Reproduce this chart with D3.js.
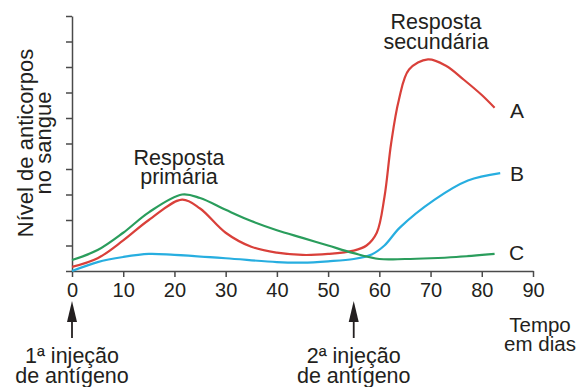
<!DOCTYPE html>
<html>
<head>
  <meta charset="utf-8">
  <title>Resposta imunológica</title>
  <script src="https://d3js.org/d3.v7.min.js"></script>
  <style>
    body, html {
      margin: 0;
      padding: 0;
      background: #fff;
      overflow: hidden;
    }
    text {
      font-family: "Liberation Sans", Arial, sans-serif;
      fill: #231f20;
    }
  </style>
</head>
<body>
  <div id="chart"></div>

  <script>
    // Data: [day, level] pairs (level in 0-10 tick units)
    const seriesA = [[0, 0.16], [5, 0.5], [10, 1.2], [15, 2.0], [21.5, 2.8], [25, 2.45], [30, 1.5], [35, 0.95],
      [40, 0.72], [45, 0.63], [50, 0.67], [55, 0.8], [57.5, 1.0], [59.5, 1.5], [61, 2.9], [62.3, 5.0],
      [63.8, 6.7], [65.8, 7.9], [69.5, 8.3], [73, 8.05], [76.5, 7.5], [80, 6.9], [82.5, 6.4]];
    const seriesB = [[0, 0], [5, 0.35], [10, 0.55], [15, 0.67], [20, 0.63], [30, 0.5], [40, 0.35], [45, 0.33],
      [50, 0.38], [55, 0.47], [58.5, 0.65], [61, 1.0], [64, 1.7], [70.8, 2.8], [77.3, 3.55], [83.6, 3.84]];
    const seriesC = [[0, 0.43], [5, 0.82], [10, 1.5], [15, 2.3], [21.5, 3.0], [25, 2.86], [30, 2.4], [35, 1.96],
      [40, 1.6], [45, 1.3], [50, 1.0], [55, 0.7], [60, 0.47], [65, 0.47], [70, 0.5], [75, 0.55], [82.5, 0.67]];
    const seriesNames = ["A", "B", "C"];
    const seriesColors = ["#d9403a", "#27aee0", "#2a9d5c"];
    const xTicks = [0, 10, 20, 30, 40, 50, 60, 70, 80, 90];
    const yTicks = [0, 1, 2, 3, 4, 5, 6, 7, 8, 9, 10];
    const injections = [0, 55];

    const width = 580;
    const height = 387;

    const svg = d3.select("#chart")
      .append("svg")
      .attr("width", width)
      .attr("height", height);

    const x = d3.scaleLinear().domain([0, 90]).range([72, 533]);
    const y = d3.scaleLinear().domain([0, 10]).range([271, 16]);

    // Axes
    const xAxis = svg.append("g")
      .attr("transform", `translate(0,${y(0)})`)
      .call(d3.axisBottom(x).tickValues(xTicks).tickSize(6).tickSizeOuter(0).tickPadding(4));
    xAxis.selectAll("text").attr("font-size", 20).attr("dy", "0.78em");

    const yAxis = svg.append("g")
      .attr("transform", `translate(${x(0)},0)`)
      .call(d3.axisLeft(y).tickValues(yTicks).tickSize(6).tickSizeOuter(0).tickFormat(""));

    svg.selectAll(".domain, .tick line").attr("stroke", "#4a4a4a").attr("stroke-width", 1.5);

    // Curves
    const line = d3.line()
      .x(d => x(d[0]))
      .y(d => y(d[1]))
      .curve(d3.curveCatmullRom.alpha(0.5));

    [seriesA, seriesB, seriesC].forEach((s, i) => {
      svg.append("path")
        .datum(s)
        .attr("fill", "none")
        .attr("stroke", seriesColors[i])
        .attr("stroke-width", 2.2)
        .attr("d", line);
    });

    // Series labels
    const labelPos = [[510, 118], [510, 181], [509, 260]];
    seriesNames.forEach((n, i) => {
      svg.append("text")
        .attr("x", labelPos[i][0])
        .attr("y", labelPos[i][1])
        .attr("font-size", 21)
        .text(n);
    });

    // Multi-line text helper
    function block(lines, cx, y0, lh, size) {
      const t = svg.append("text")
        .attr("text-anchor", "middle")
        .attr("font-size", size);
      lines.forEach((l, i) => {
        t.append("tspan").attr("x", cx).attr("y", y0 + i * lh).text(l);
      });
      return t;
    }

    block(["Resposta", "primária"], 179, 165, 19, 21.5);
    block(["Resposta", "secundária"], 436, 29, 20, 21.5);
    block(["Tempo", "em dias"], 540, 332, 18.5, 20.5);

    // Y label (rotated)
    const yl = svg.append("text")
      .attr("text-anchor", "middle")
      .attr("font-size", 22)
      .attr("transform", "translate(33,143) rotate(-90)");
    yl.append("tspan").attr("x", 0).attr("y", 0).text("Nível de anticorpos");
    yl.append("tspan").attr("x", 0).attr("y", 17.5).text("no sangue");

    // Injection arrows
    injections.forEach(d => {
      const cx = x(d);
      svg.append("line")
        .attr("x1", cx).attr("x2", cx)
        .attr("y1", 318).attr("y2", 338)
        .attr("stroke", "#231f20").attr("stroke-width", 1.8);
      svg.append("path")
        .attr("d", `M${cx},301 L${cx - 5},322 L${cx + 5},322 Z`)
        .attr("fill", "#231f20");
    });

    block(["1ª injeção", "de antígeno"], x(0), 363, 20, 21.5);
    block(["2ª injeção", "de antígeno"], x(55), 363, 20, 21.5);
  </script>
</body>
</html>
